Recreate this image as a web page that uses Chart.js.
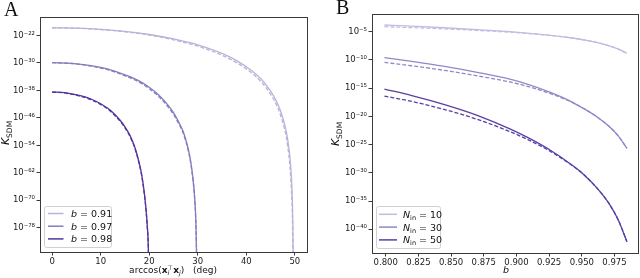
<!DOCTYPE html>
<html>
<head>
<meta charset="utf-8">
<script src="https://cdn.jsdelivr.net/npm/chart.js@4.4.1/dist/chart.umd.min.js"></script>
<style>
  body { margin: 0; background: #fff; }
  #wrap { position: relative; width: 640px; height: 278px; }
  canvas { position: absolute; top: 0; }
  #chartA { left: 0; }
  #chartB { left: 320px; }
</style>
</head>
<body>
<div id="wrap">
  <canvas id="chartA" width="320" height="278"></canvas>
  <canvas id="chartB" width="320" height="278"></canvas>
</div>
<script>
// values are exponents of ten

// panel A, x = angle in degrees
const bValues = [0.91, 0.97, 0.98];
const angA091 = [0, 5, 10, 15, 20, 25, 30, 35, 38, 41, 43, 45, 46, 47, 48, 48.5, 49, 49.3, 49.5, 49.6, 49.68];
const kA091   = [-19.75, -19.85, -20.2, -20.8, -21.7, -23.0, -24.7, -27.2, -29.3, -32.1, -34.6, -38.2, -40.6, -43.8, -48.5, -52.1, -57.7, -63.5, -70.7, -78, -88];
const angA091d = [0, 5, 10, 15, 20, 25, 30, 35, 38, 41, 43, 45, 46, 47, 48, 48.5, 49, 49.3, 49.5, 49.6];
const kA091d   = [-19.75, -19.87, -20.25, -20.9, -21.85, -23.25, -25.1, -27.75, -29.9, -32.8, -35.4, -39.1, -41.6, -45.0, -50.0, -54.0, -60.5, -67.5, -76, -88];
const angA097 = [0, 4, 8, 12, 16, 18, 20, 22, 24, 25, 26, 27, 28, 28.5, 29, 29.3, 29.6, 29.8];
const kA097   = [-29.9, -30.1, -30.8, -32.0, -34.0, -35.3, -37.1, -39.4, -42.5, -44.5, -47.0, -50.0, -54.8, -58.3, -63.5, -68.0, -76.0, -89.0];
const kA097d  = [-29.9, -30.15, -30.9, -32.2, -34.3, -35.65, -37.5, -39.85, -43.0, -45.0, -47.5, -50.5, -55.3, -58.8, -64.0, -68.5, -76.5, -89.0];
const angA098 = [0, 2, 4, 6, 8, 10, 12, 14, 15, 16, 17, 18, 18.5, 19, 19.3, 19.6, 19.8, 19.9];
const kA098   = [-38.5, -38.6, -39.0, -39.6, -40.5, -41.9, -43.8, -46.7, -48.6, -51.0, -54.4, -59.5, -63.0, -68.0, -72.0, -77.5, -83, -90];
const kA098d  = [-38.5, -38.65, -39.1, -39.75, -40.7, -42.1, -44.05, -47.0, -48.9, -51.3, -54.7, -59.8, -63.3, -68.3, -72.3, -77.7, -83, -90];
const xTicksA = [0, 10, 20, 30, 40, 50];
const yTicksA = [-22, -30, -38, -46, -54, -62, -70, -78];

// panel B, x = b
const nIn = [10, 30, 50];
const bGrid = [0.799, 0.82, 0.845, 0.87, 0.895, 0.91, 0.926, 0.94, 0.951, 0.962, 0.971, 0.978, 0.9845];
const kB10  = [-3.81, -4.02, -4.3, -4.62, -5.0, -5.28, -5.64, -6.02, -6.42, -6.92, -7.5, -8.08, -8.83];
const kB10d = [-4.11, -4.27, -4.5, -4.77, -5.08, -5.33, -5.66, -6.02, -6.42, -6.92, -7.5, -8.08, -8.83];
const kB30  = [-9.57, -10.25, -11.15, -12.2, -13.4, -14.4, -15.75, -17.15, -18.55, -20.15, -21.8, -23.5, -25.67];
const kB30d = [-10.43, -11.03, -11.85, -12.82, -13.9, -14.78, -15.97, -17.23, -18.55, -20.15, -21.8, -23.5, -25.67];
const kB50  = [-15.16, -16.3, -17.9, -19.8, -22.2, -23.9, -26.0, -28.2, -30.2, -32.8, -35.5, -38.4, -42.2];
const kB50d = [-16.4, -17.35, -18.78, -20.52, -22.7, -24.25, -26.2, -28.28, -30.2, -32.8, -35.5, -38.4, -42.2];
const xTicksB = [0.8, 0.825, 0.85, 0.875, 0.9, 0.925, 0.95, 0.975];
const yTicksB = [-5, -10, -15, -20, -25, -30, -35, -40];

const colorsA = ['#b7b4da', '#827ebd', '#52349c'];
const colorsB = ['#c0bde0', '#8e8ac6', '#5a3ea6'];

Chart.defaults.font.family = 'DejaVu Sans';

const SUP = {'-': '\u207B', '0': '\u2070', '1': '\u00B9', '2': '\u00B2', '3': '\u00B3',
  '4': '\u2074', '5': '\u2075', '6': '\u2076', '7': '\u2077', '8': '\u2078', '9': '\u2079'};
function pow10Label(v) {
  const e = Math.round(Math.log10(v));
  return '10' + String(e).split('').map(function (c) { return SUP[c]; }).join('');
}

function pts(xs, es) {
  return xs.map(function (x, i) { return {x: x, y: Math.pow(10, es[i])}; });
}

function line(label, data, color, dashed) {
  return {
    label: label,
    data: data,
    borderColor: color,
    borderWidth: 1.3,
    borderDash: dashed ? [4, 2] : [],
    pointRadius: 0,
    fill: false,
    cubicInterpolationMode: 'monotone'
  };
}

// mixed-font text (italic letters, subscripts) drawn piece by piece
function drawRich(ctx, parts, x, y, align) {
  const widths = parts.map(function (p) { ctx.font = p.f; return ctx.measureText(p.t).width; });
  let cx = 0, prevStart = 0;
  const xs = [];
  parts.forEach(function (p, i) {
    if (p.stack) {
      xs.push(prevStart);
      cx = Math.max(cx, prevStart + widths[i]);
    } else {
      xs.push(cx);
      prevStart = cx;
      cx += widths[i] + (p.gap || 0);
    }
  });
  const start = align === 'center' ? x - cx / 2 : x;
  parts.forEach(function (p, i) {
    ctx.font = p.f;
    ctx.fillText(p.t, start + xs[i], y + (p.dy || 0));
  });
}

function px(p) { return Math.round(p - 0.5) + 0.5; }

const decorPlugin = {
  id: 'decor',
  afterDraw: function (chart, args, o) {
    const ctx = chart.ctx, a = chart.chartArea;
    ctx.save();
    // full box round the axes
    ctx.strokeStyle = '#3a3a3a';
    ctx.lineWidth = 1;
    ctx.strokeRect(px(a.left), px(a.top), px(a.right) - px(a.left), px(a.bottom) - px(a.top));

    // legend box
    const lg = o.legend;
    const bx = a.left + lg.dx, by = a.bottom - lg.dy - lg.h;
    ctx.beginPath();
    ctx.roundRect(px(bx), px(by), lg.w, lg.h, 2);
    ctx.fillStyle = 'rgba(255,255,255,0.8)';
    ctx.fill();
    ctx.strokeStyle = '#d0d0d0';
    ctx.stroke();
    const solid = chart.data.datasets.filter(function (d) { return d.label; });
    solid.forEach(function (d, i) {
      const y = by + lg.row0 + i * lg.rowH;
      ctx.strokeStyle = d.borderColor;
      ctx.lineWidth = 1.5;
      ctx.beginPath();
      ctx.moveTo(bx + lg.s0, y);
      ctx.lineTo(bx + lg.s1, y);
      ctx.stroke();
      ctx.fillStyle = '#111';
      ctx.textBaseline = 'alphabetic';
      drawRich(ctx, o.legendParts(d.label), bx + lg.tx, y + 3.5, 'left');
    });

    // axis titles and panel letter
    ctx.fillStyle = '#111';
    drawRich(ctx, o.xTitle, o.xTitleX, o.xTitleY, 'center');
    ctx.save();
    ctx.translate(o.yTitleX, o.yTitleY);
    ctx.rotate(-Math.PI / 2);
    drawRich(ctx, o.yTitle, 0, 0, 'center');
    ctx.restore();
    ctx.font = '20px "Liberation Serif"';
    ctx.fillText(o.letter, o.letterX, o.letterY);
    ctx.restore();
  }
};

const tickFont = {family: 'DejaVu Sans', size: 8.5};
const yTitle = [
  {t: 'K', f: 'italic 11px "DejaVu Sans"'},
  {t: 'SDM', f: '7.5px "DejaVu Sans"', dy: 2.5}
];

function makeChart(id, cfg) {
  return new Chart(document.getElementById(id), {
    type: 'line',
    data: {datasets: cfg.datasets},
    plugins: [decorPlugin],
    options: {
      responsive: false,
      animation: false,
      devicePixelRatio: 1,
      layout: {padding: cfg.padding},
      scales: {
        x: {
          type: 'linear',
          min: cfg.xMin,
          max: cfg.xMax,
          afterBuildTicks: function (s) { s.ticks = cfg.xTicks.map(function (v) { return {value: v}; }); },
          afterFit: function (s) { s.height = cfg.xHeight; },
          ticks: {font: tickFont, color: '#222', padding: 1, autoSkip: false, maxRotation: 0,
            callback: cfg.xFmt},
          grid: {drawOnChartArea: false, tickLength: 3.5, color: '#3a3a3a'},
          border: {color: '#3a3a3a'}
        },
        y: {
          type: 'logarithmic',
          min: cfg.yMin,
          max: cfg.yMax,
          afterBuildTicks: function (s) { s.ticks = cfg.yTicks.map(function (e) { return {value: Math.pow(10, e)}; }); },
          afterFit: function (s) { s.width = cfg.yWidth; },
          ticks: {font: tickFont, color: '#222', padding: 1.5, autoSkip: false, callback: pow10Label},
          grid: {drawOnChartArea: false, tickLength: 3.5, color: '#3a3a3a'},
          border: {color: '#3a3a3a'}
        }
      },
      plugins: {
        legend: {display: false},
        tooltip: {enabled: false},
        decor: cfg.decor
      }
    }
  });
}

// ---- panel A
const curvesA = [
  [angA091, kA091, angA091d, kA091d],
  [angA097, kA097, angA097, kA097d],
  [angA098, kA098, angA098, kA098d]
];
const dsA = [];
curvesA.forEach(function (c, i) {
  dsA.push(line(String(bValues[i]), pts(c[0], c[1]), colorsA[i], false));
  dsA.push(line('', pts(c[2], c[3]), colorsA[i], true));
});

makeChart('chartA', {
  datasets: dsA,
  padding: {left: 0, right: 13, top: 17, bottom: 0},
  xMin: -2.5, xMax: 52.5, xTicks: xTicksA, xHeight: 26,
  xFmt: function (v) { return String(v); },
  yMin: Math.pow(10, -85.1), yMax: Math.pow(10, -16.6), yTicks: yTicksA, yWidth: 40,
  decor: {
    legend: {dx: 4.5, dy: 5, w: 67, h: 41, row0: 7.5, rowH: 12.7, s0: 3.5, s1: 19, tx: 26.5},
    legendParts: function (lab) {
      return [{t: 'b', f: 'italic 9.5px "DejaVu Sans"'}, {t: ' = ' + lab, f: '9.5px "DejaVu Sans"'}];
    },
    xTitle: [
      {t: 'arccos(', f: '9px "DejaVu Sans"'},
      {t: 'x', f: 'bold 9px "DejaVu Sans"'},
      {t: 'i', f: 'italic 6.5px "DejaVu Sans"', dy: 2},
      {t: '\u22A4', f: '6.5px "DejaVu Sans"', dy: -3.5, stack: true},
      {t: 'x', f: 'bold 9px "DejaVu Sans"'},
      {t: 'j', f: 'italic 6.5px "DejaVu Sans"', dy: 2},
      {t: ')   (deg)', f: '9px "DejaVu Sans"'}
    ],
    xTitleX: 173, xTitleY: 273,
    yTitle: yTitle, yTitleX: 9, yTitleY: 133,
    letter: 'A', letterX: 4, letterY: 16
  }
});

// ---- panel B
const curvesB = [[kB10, kB10d], [kB30, kB30d], [kB50, kB50d]];
const dsB = [];
curvesB.forEach(function (c, i) {
  dsB.push(line(String(nIn[i]), pts(bGrid, c[0]), colorsB[i], false));
  dsB.push(line('', pts(bGrid, c[1]), colorsB[i], true));
});

makeChart('chartB', {
  datasets: dsB,
  padding: {left: 0, right: 2, top: 14, bottom: 0},
  xMin: 0.7895, xMax: 0.993, xTicks: xTicksB, xHeight: 25,
  xFmt: function (v) { return v.toFixed(3); },
  yMin: Math.pow(10, -44.2), yMax: Math.pow(10, -1.86), yTicks: yTicksB, yWidth: 52,
  decor: {
    legend: {dx: 4.5, dy: 4.5, w: 64, h: 42, row0: 7.8, rowH: 12.8, s0: 2.5, s1: 20.5, tx: 26.5},
    legendParts: function (lab) {
      return [
        {t: 'N', f: 'italic 9.5px "DejaVu Sans"'},
        {t: 'in', f: '6.5px "DejaVu Sans"', dy: 2},
        {t: ' = ' + lab, f: '9.5px "DejaVu Sans"'}
      ];
    },
    xTitle: [{t: 'b', f: 'italic 9.5px "DejaVu Sans"'}],
    xTitleX: 186, xTitleY: 273,
    yTitle: yTitle, yTitleX: 19, yTitleY: 134,
    letter: 'B', letterX: 16, letterY: 14
  }
});
</script>
</body>
</html>
